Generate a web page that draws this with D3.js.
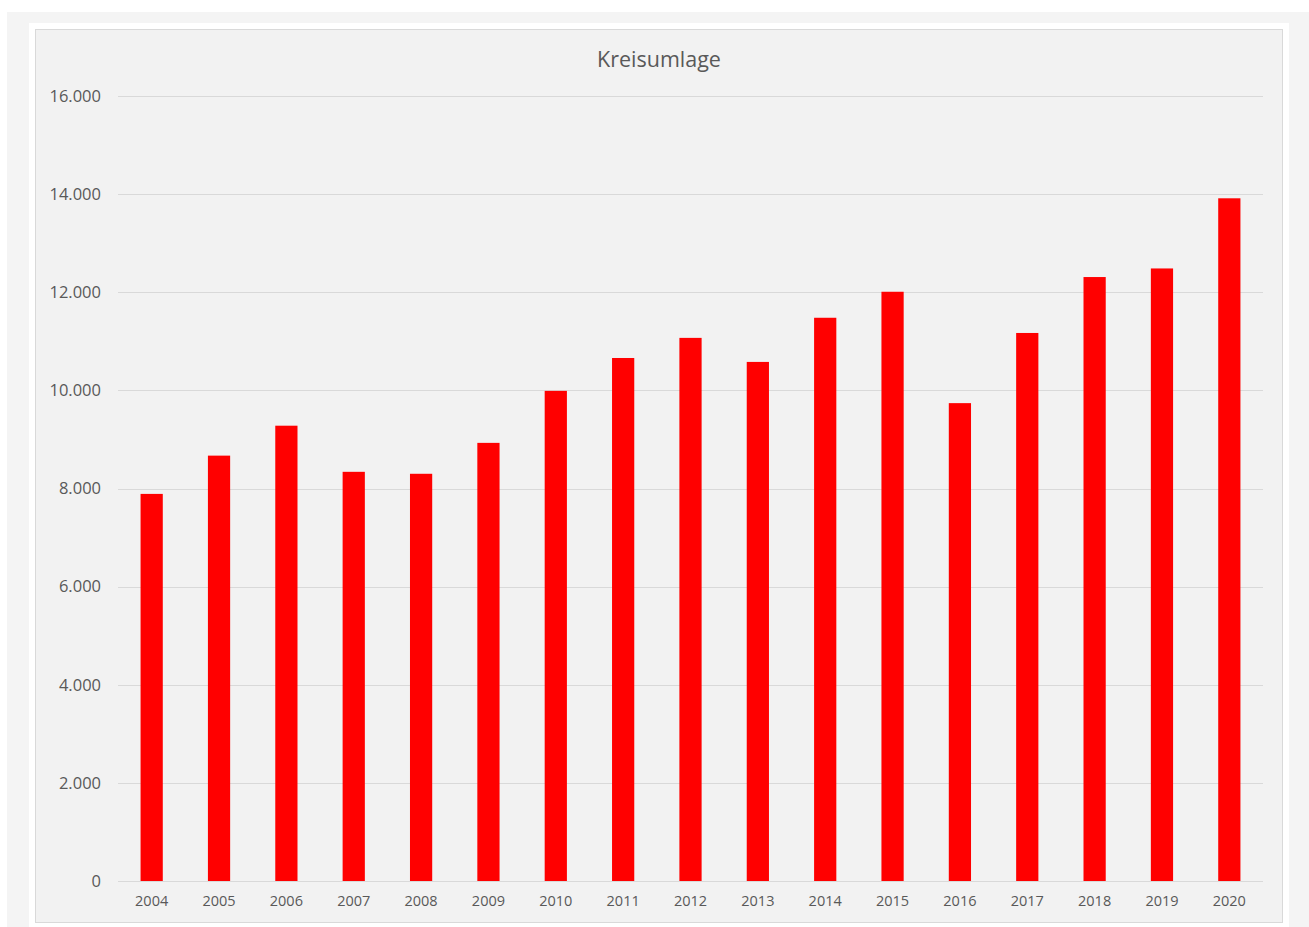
<!DOCTYPE html>
<html>
<head>
<meta charset="utf-8">
<script src="https://cdn.jsdelivr.net/npm/d3@7"></script>
<style>
  html, body { margin: 0; padding: 0; background: #fff; }
  svg { display: block; }
  text { font-family: "Open Sans", "Noto Sans", sans-serif; fill: #595959; }
</style>
</head>
<body>
<svg id="chart" width="1309" height="927"></svg>
<script>
// ---------- data ----------
const years = ["2004", "2005", "2006", "2007", "2008", "2009", "2010", "2011", "2012",
  "2013", "2014", "2015", "2016", "2017", "2018", "2019", "2020"];
const values = [7890, 8670, 9280, 8340, 8300, 8930, 9990, 10660, 11070,
  10580, 11480, 12010, 9740, 11170, 12310, 12485, 13915];
const yTicks = [0, 2000, 4000, 6000, 8000, 10000, 12000, 14000, 16000];
const title = "Kreisumlage";

// ---------- setup ----------
const svg = d3.select("#chart");
const de = d3.formatLocale({ decimal: ",", thousands: ".", grouping: [3], currency: ["", " €"] });
const fmt = de.format(",");

// outer frames
svg.append("rect").attr("x", 7).attr("y", 12).attr("width", 1302).attr("height", 915).attr("fill", "#f4f4f4");
svg.append("rect").attr("x", 29).attr("y", 23).attr("width", 1260).attr("height", 904).attr("fill", "#fff");
svg.append("rect").attr("x", 35.5).attr("y", 29.5).attr("width", 1247).attr("height", 893)
  .attr("fill", "#f2f2f2").attr("stroke", "#d9d9d9").attr("stroke-width", 1);

const plot = { left: 118, right: 1263, top: 96, bottom: 881 };

const x = d3.scaleBand().domain(years).range([plot.left, plot.right]).paddingInner(0.67).paddingOuter(0.335);
const y = d3.scaleLinear().domain([0, 16000]).range([plot.bottom, plot.top]);

// gridlines
svg.append("g").selectAll("line").data(yTicks.slice(1)).join("line")
  .attr("x1", plot.left).attr("x2", plot.right)
  .attr("y1", d => Math.round(y(d)) + 0.5).attr("y2", d => Math.round(y(d)) + 0.5)
  .attr("stroke", "#d9d9d9").attr("stroke-width", 1);

// y labels
svg.append("g").selectAll("text").data(yTicks).join("text")
  .attr("x", 101).attr("y", d => y(d)).attr("dy", "0.35em")
  .attr("text-anchor", "end").attr("font-size", 16.5)
  .text(d => fmt(d));

// bars
svg.append("g").selectAll("rect").data(values).join("rect")
  .attr("x", (d, i) => x(years[i]))
  .attr("width", x.bandwidth())
  .attr("y", d => y(d))
  .attr("height", d => y(0) - y(d))
  .attr("fill", "#ff0000");

// baseline
svg.append("line").attr("x1", plot.left).attr("x2", plot.right)
  .attr("y1", plot.bottom + 0.5).attr("y2", plot.bottom + 0.5)
  .attr("stroke", "#d9d9d9").attr("stroke-width", 1);

// x labels
svg.append("g").selectAll("text").data(years).join("text")
  .attr("x", d => x(d) + x.bandwidth() / 2).attr("y", 901).attr("dy", "0.35em")
  .attr("text-anchor", "middle").attr("font-size", 14.5)
  .text(d => d);

// title
svg.append("text").attr("x", 659).attr("y", 59).attr("dy", "0.35em")
  .attr("text-anchor", "middle").attr("font-size", 21.5)
  .text(title);
</script>
</body>
</html>
